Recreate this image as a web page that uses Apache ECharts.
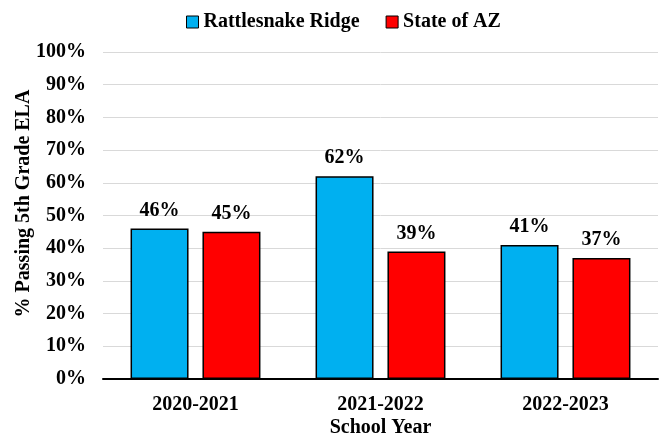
<!DOCTYPE html>
<html>
<head>
<meta charset="utf-8">
<script src="https://cdn.jsdelivr.net/npm/echarts@6/dist/echarts.min.js"></script>
<style>
  html, body { margin: 0; padding: 0; background: #fff; }
  #chart { width: 663px; height: 440px; }
</style>
</head>
<body>
<div id="chart"></div>
<script>
const years = ['2020-2021', '2021-2022', '2022-2023'];
const rattlesnakeRidge = [46, 62, 41];
const stateOfAZ = [45, 39, 37];
const seriesNames = ['Rattlesnake Ridge', 'State of AZ'];

const font = '"Liberation Serif", "Times New Roman", serif';

const chart = echarts.init(document.getElementById('chart'));

function barSeries(name, data, color) {
    return {
        name: name,
        type: 'bar',
        data: data,
        barWidth: 58,
        barGap: '24%',
        itemStyle: { color: color, borderColor: '#000', borderWidth: 1.5 },
        label: {
            show: true,
            position: 'top',
            distance: 8,
            formatter: '{c}%',
            fontFamily: font,
            fontWeight: 'bold',
            fontSize: 20,
            color: '#000'
        }
    };
}

chart.setOption({
    animation: false,
    legend: {
        top: 7,
        left: 181,
        itemWidth: 12,
        itemHeight: 12,
        itemGap: 26,
        icon: 'rect',
        itemStyle: { borderColor: '#000', borderWidth: 1 },
        textStyle: { fontFamily: font, fontWeight: 'bold', fontSize: 20, color: '#000' },
        data: seriesNames
    },
    grid: { left: 103, right: 5, top: 52, bottom: 61, outerBoundsMode: 'none' },
    xAxis: {
        type: 'category',
        data: years,
        name: 'School Year',
        nameLocation: 'middle',
        nameGap: 39,
        nameMoveOverlap: false,
        nameTextStyle: { fontFamily: font, fontWeight: 'bold', fontSize: 20, color: '#000' },
        axisLine: { lineStyle: { color: '#000', width: 2 } },
        axisTick: { show: false },
        axisLabel: { fontFamily: font, fontWeight: 'bold', fontSize: 20, color: '#000', margin: 16 }
    },
    yAxis: {
        type: 'value',
        min: 0,
        max: 100,
        interval: 10,
        name: '% Passing 5th Grade ELA',
        nameLocation: 'middle',
        nameGap: 69,
        nameMoveOverlap: false,
        nameTextStyle: { fontFamily: font, fontWeight: 'bold', fontSize: 20, color: '#000', padding: [0, 0, 0, 24] },
        axisLine: { show: false },
        axisTick: { show: false },
        axisLabel: { formatter: '{value}%', fontFamily: font, fontWeight: 'bold', fontSize: 20, color: '#000', margin: 17 },
        splitLine: { lineStyle: { color: '#d9d9d9', width: 1 } }
    },
    series: [
        barSeries(seriesNames[0], rattlesnakeRidge, '#00B0F0'),
        barSeries(seriesNames[1], stateOfAZ, '#FF0000')
    ]
});
</script>
</body>
</html>
